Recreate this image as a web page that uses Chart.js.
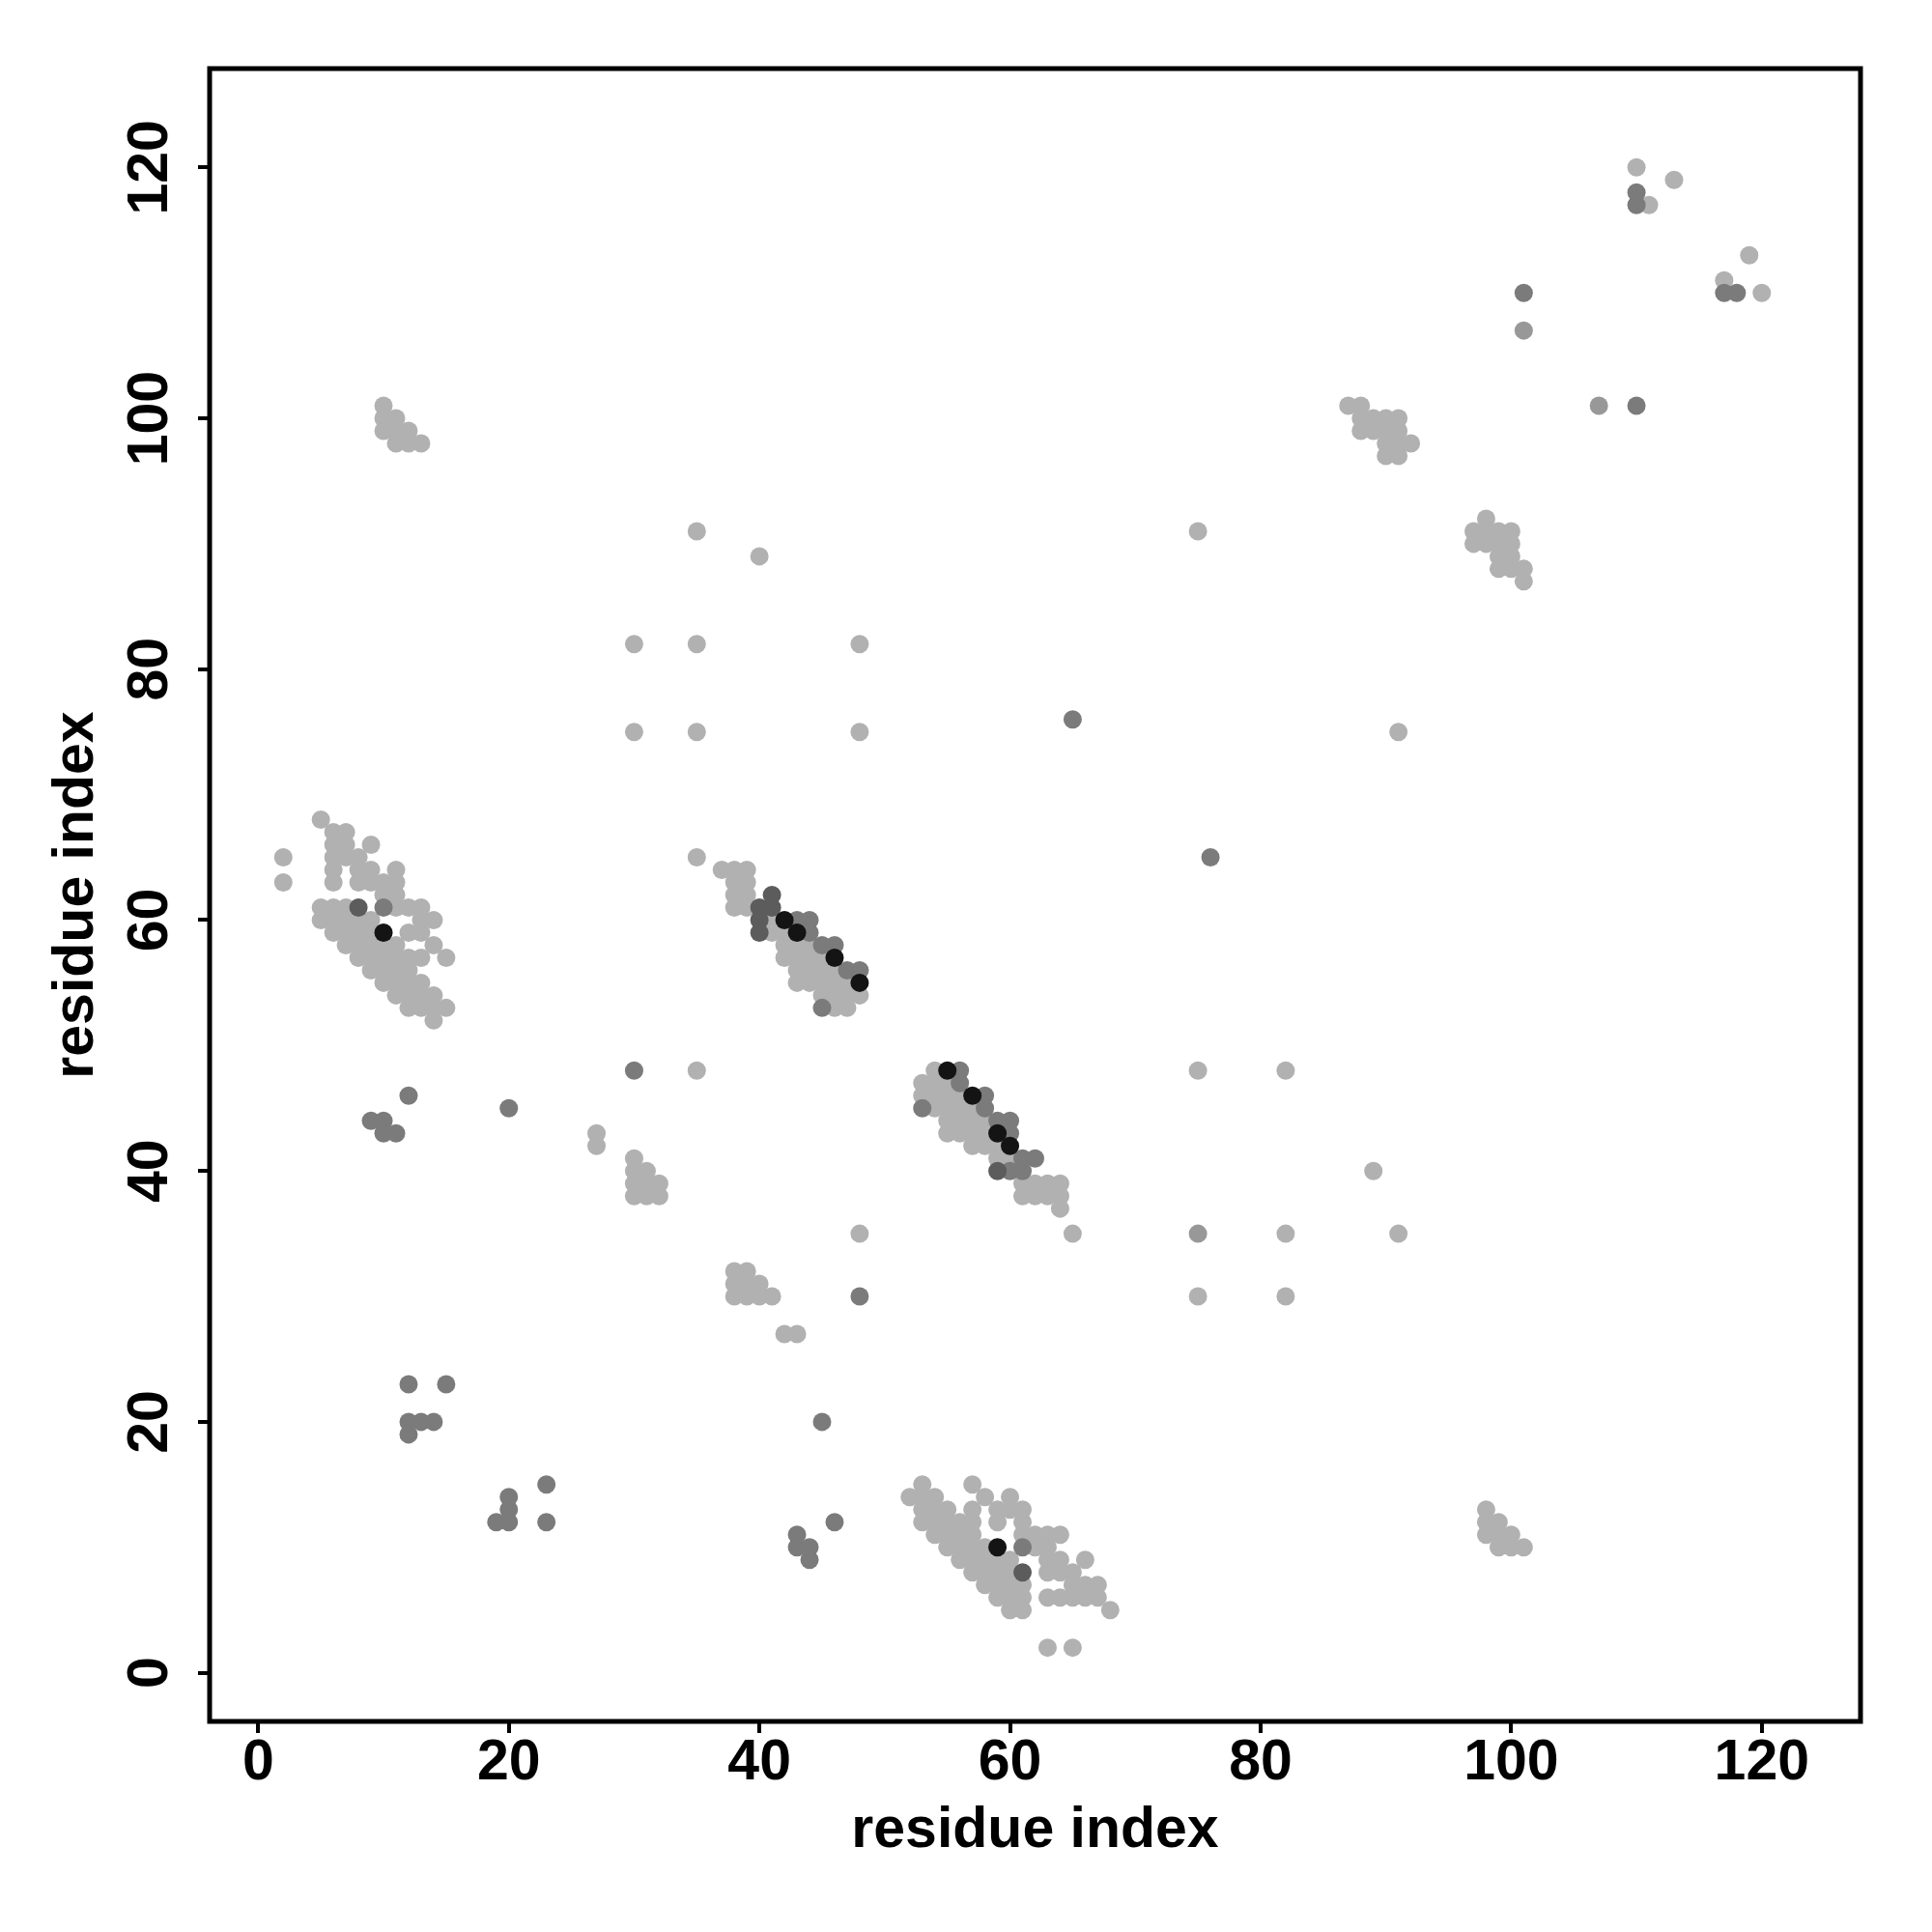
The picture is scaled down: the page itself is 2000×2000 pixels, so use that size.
<!DOCTYPE html>
<html>
<head>
<meta charset="utf-8">
<script src="https://cdn.jsdelivr.net/npm/chart.js@4/dist/chart.umd.min.js"></script>
<style>
html,body{margin:0;padding:0;background:#fff;}
#wrap{width:2000px;height:2000px;}
</style>
</head>
<body>
<div id="wrap"><canvas id="c" width="2000" height="2000"></canvas></div>
<script>
const xTitle = "residue index";
const yTitle = "residue index";
const tickValues = [0, 20, 40, 60, 80, 100, 120];
const axisMin = -3.88, axisMax = 127.88;

const lightPoints = [
  [2,65],[2,63],[5,68],[6,67],[7,67],[6,66],[7,66],[9,66],[6,65],[7,65],[8,65],
  [6,64],[8,64],[9,64],[11,64],[6,63],[8,63],[9,63],[10,63],[11,63],[10,62],[11,62],
  [5,61],[6,61],[7,61],[11,61],[12,61],[13,61],
  [5,60],[6,60],[7,60],[8,60],[9,60],[13,60],[14,60],
  [6,59],[7,59],[8,59],[9,59],[12,59],[13,59],
  [7,58],[8,58],[9,58],[10,58],[11,58],[14,58],
  [8,57],[9,57],[10,57],[11,57],[12,57],[13,57],[15,57],
  [9,56],[10,56],[11,56],[12,56],
  [10,55],[11,55],[12,55],[13,55],
  [11,54],[12,54],[13,54],[14,54],
  [12,53],[13,53],[14,53],[15,53],[14,52],
  [10,101],[10,100],[11,100],[10,99],[11,99],[12,99],[11,98],[12,98],[13,98],
  [35,91],[40,89],[30,82],[35,82],[48,82],[30,75],[35,75],[48,75],[75,91],[91,75],[35,65],[35,48],
  [27,43],[27,42],[30,41],[30,40],[31,40],[30,39],[31,39],[32,39],[30,38],[31,38],[32,38],
  [38,32],[39,32],[38,31],[39,31],[40,31],[38,30],[39,30],[40,30],[41,30],[42,27],[43,27],
  [48,35],[65,35],[75,48],[82,48],[89,40],[91,35],[82,35],[75,30],[82,30],
  [37,64],[38,64],[39,64],[38,63],[39,63],[38,62],[39,62],[38,61],[39,61],[41,60],[41,59],[42,59],
  [42,58],[43,58],[44,58],[42,57],[43,57],[44,57],[45,57],[43,56],[44,56],[45,56],[46,56],
  [43,55],[44,55],[45,55],[46,55],[47,55],[45,54],[46,54],[47,54],[48,54],[46,53],[47,53],
  [54,48],[53,47],[54,47],[55,47],[53,46],[54,46],[55,46],[56,46],[54,45],[55,45],[56,45],[57,45],
  [55,44],[56,44],[57,44],[58,44],[55,43],[56,43],[57,43],[58,43],[57,42],[58,42],[59,42],
  [59,41],[60,41],[61,39],[62,39],[63,39],[64,39],[61,38],[62,38],[63,38],[64,38],[64,37],
  [53,15],[57,15],[52,14],[53,14],[54,14],[58,14],[60,14],
  [53,13],[54,13],[55,13],[57,13],[59,13],[60,13],[61,13],
  [53,12],[54,12],[55,12],[56,12],[57,12],[59,12],[61,12],
  [54,11],[55,11],[56,11],[57,11],[61,11],[62,11],[63,11],[64,11],
  [55,10],[56,10],[57,10],[58,10],[62,10],[63,10],
  [56,9],[57,9],[58,9],[59,9],[60,9],[63,9],[64,9],[66,9],
  [57,8],[58,8],[59,8],[60,8],[63,8],[64,8],[65,8],
  [58,7],[59,7],[60,7],[61,7],[65,7],[66,7],[67,7],
  [59,6],[60,6],[61,6],[63,6],[64,6],[65,6],[66,6],[67,6],
  [60,5],[61,5],[68,5],[63,2],[65,2],
  [87,101],[88,101],[88,100],[89,100],[90,100],[91,100],[88,99],[89,99],[90,99],[91,99],
  [90,98],[91,98],[92,98],[90,97],[91,97],
  [98,92],[97,91],[98,91],[99,91],[100,91],[97,90],[98,90],[99,90],[100,90],
  [99,89],[100,89],[99,88],[100,88],[101,88],[101,87],
  [98,13],[98,12],[99,12],[98,11],[99,11],[100,11],[99,10],[100,10],[101,10],
  [110,120],[113,119],[111,117],[119,113],[117,111],[120,110]
];
const midLightPoints = [[101,107],[107,101],[75,35]];
const mediumPoints = [
  [12,46],[9,44],[10,44],[10,43],[11,43],[20,45],[30,48],
  [12,23],[15,23],[12,20],[13,20],[14,20],[12,19],
  [20,14],[20,13],[19,12],[20,12],[23,15],[23,12],
  [45,20],[46,12],[43,11],[43,10],[44,10],[44,9],[48,30],
  [65,76],[76,65],[101,110],[110,101],[110,118],[110,117],[117,110],[118,110],
  [10,61],[43,60],[44,60],[44,59],[45,58],[46,58],[47,56],[48,56],[45,53],
  [56,48],[56,47],[58,46],[58,45],[53,45],[59,44],[60,44],[60,43],[61,41],[62,41],[60,40],[61,40],
  [61,10]
];
const darkPoints = [[8,61],[40,61],[41,61],[41,62],[40,60],[40,59],[59,40],[61,8]];
const blackPoints = [[10,59],[42,60],[43,59],[46,57],[48,55],[55,48],[57,46],[59,43],[60,42],[59,10]];

const FONT = '"Liberation Sans", Arial, Helvetica, sans-serif';

function ds(pts, color) {
  return {
    data: pts.map(p => ({x: p[0], y: p[1]})),
    backgroundColor: color,
    borderWidth: 0,
    pointRadius: 9.5,
    pointHoverRadius: 9.5
  };
}

const framePlugin = {
  id: 'frame',
  afterDraw(chart) {
    const ctx = chart.ctx, a = chart.chartArea;
    ctx.save();
    ctx.strokeStyle = '#000';
    ctx.lineWidth = 5;
    ctx.strokeRect(a.left, a.top, a.right - a.left, a.bottom - a.top);
    const ys = chart.scales.y;
    ctx.fillStyle = '#000';
    ctx.font = 'bold 59px ' + FONT;
    ctx.textAlign = 'center';
    ctx.textBaseline = 'middle';
    ys.ticks.forEach(t => {
      const py = ys.getPixelForValue(t.value);
      ctx.save();
      ctx.translate(157, py);
      ctx.rotate(-Math.PI / 2);
      ctx.fillText(String(t.value), 0, 0);
      ctx.restore();
    });
    ctx.restore();
  }
};

new Chart(document.getElementById('c'), {
  type: 'scatter',
  data: {
    datasets: [
      ds(lightPoints, '#b1b1b1'),
      ds(midLightPoints, '#989898'),
      ds(mediumPoints, '#7b7b7b'),
      ds(darkPoints, '#5c5c5c'),
      ds(blackPoints, '#141414')
    ].reverse()
  },
  options: {
    responsive: false,
    animation: false,
    devicePixelRatio: 1,
    layout: {padding: {left: 0, top: 71, right: 74, bottom: 0}},
    plugins: {legend: {display: false}, tooltip: {enabled: false}},
    scales: {
      x: {
        type: 'linear',
        min: axisMin, max: axisMax,
        afterBuildTicks(s) { s.ticks = tickValues.map(v => ({value: v})); },
        afterFit(s) { s.height = 218; },
        grid: {display: true, drawOnChartArea: false, drawTicks: true, tickLength: 12, color: '#000', lineWidth: 4, tickWidth: 4, tickColor: '#000'},
        border: {display: false},
        ticks: {color: '#000', font: {family: FONT, size: 59, weight: 'bold'}, padding: -4, maxRotation: 0, minRotation: 0, autoSkip: false},
        title: {display: true, text: xTitle, color: '#000', font: {family: FONT, size: 59, weight: 'bold'}, padding: {top: 0, bottom: 69}}
      },
      y: {
        type: 'linear',
        min: axisMin, max: axisMax,
        afterBuildTicks(s) { s.ticks = tickValues.map(v => ({value: v})); },
        afterFit(s) { s.width = 217; },
        grid: {display: true, drawOnChartArea: false, drawTicks: true, tickLength: 12, color: '#000', lineWidth: 4, tickWidth: 4, tickColor: '#000'},
        border: {display: false},
        ticks: {display: false},
        title: {display: true, text: yTitle, color: '#000', font: {family: FONT, size: 59, weight: 'bold'}, padding: {top: 44, bottom: 0}}
      }
    }
  },
  plugins: [framePlugin]
});
</script>
</body>
</html>
